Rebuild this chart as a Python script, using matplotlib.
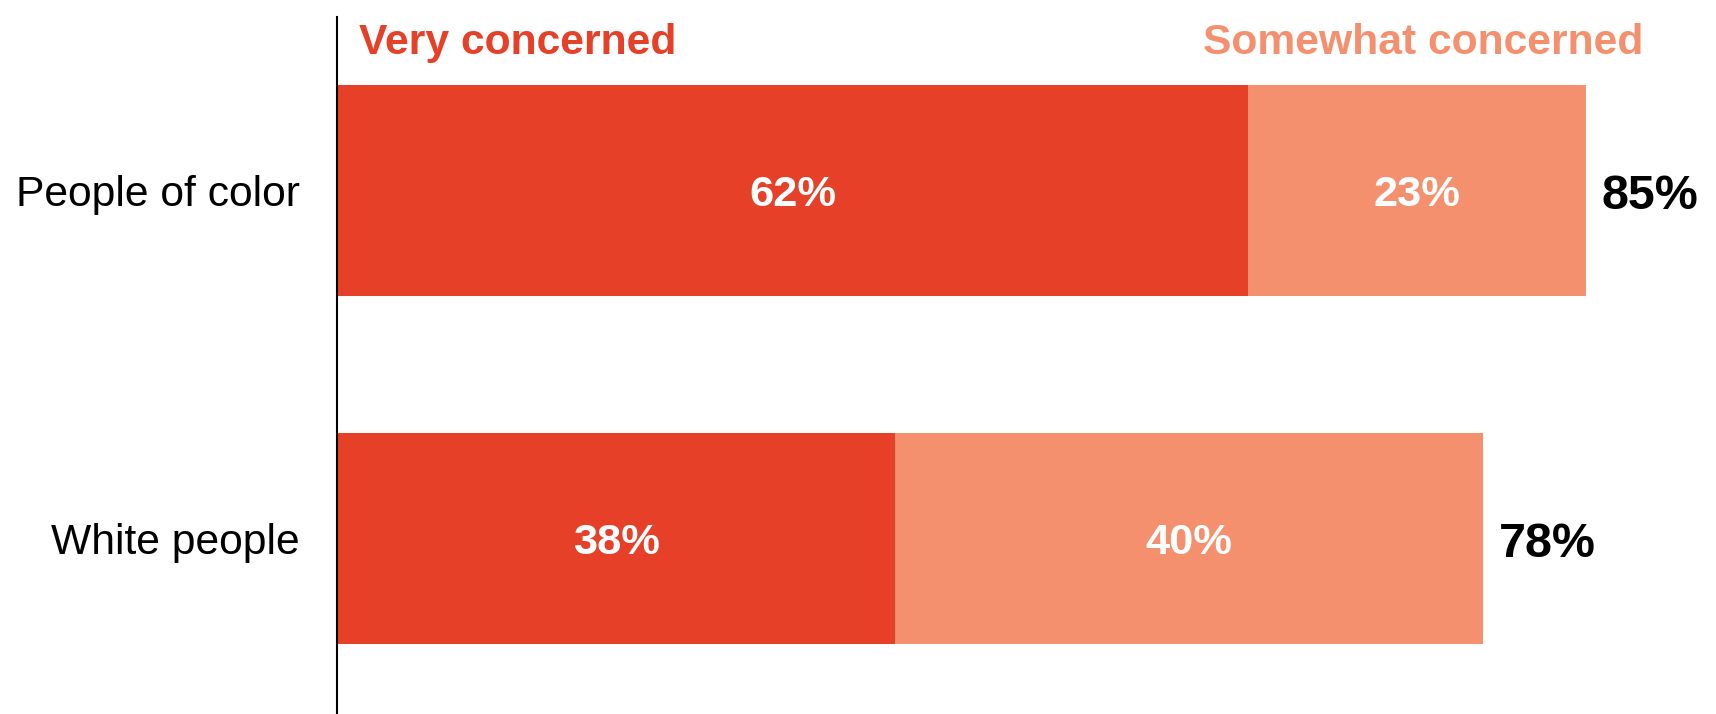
import matplotlib
matplotlib.use('Agg')
import matplotlib.pyplot as plt

plt.rcParams['font.family'] = ['Liberation Sans', 'DejaVu Sans']

categories = ['People of color', 'White people']
very = [62, 38]
somewhat = [23, 40]
very_color = '#E64028'
somewhat_color = '#F5906E'


def main():
    fig = plt.figure(figsize=(17.16, 7.14), dpi=100)
    x0 = 337 / 1716
    ax = fig.add_axes([x0, 0, 1 - x0, 697 / 714])

    ypos = list(range(len(categories)))
    ax.barh(ypos, very, height=0.607, color=very_color)
    ax.barh(ypos, somewhat, left=very, height=0.607, color=somewhat_color)

    for y, v, s in zip(ypos, very, somewhat):
        ax.text(v / 2, y + 0.013, f'{v}%', ha='center', va='center', color='white',
                fontsize=31.2, fontweight='bold')
        ax.text(v + s / 2, y + 0.013, f'{s}%', ha='center', va='center', color='white',
                fontsize=31.2, fontweight='bold')
        ax.text(v + s + 1.1, y + 0.017, f'{v + s}%', ha='left', va='center', color='black',
                fontsize=34.8, fontweight='bold')

    ax.set_xlim(0, 1379 / 14.69)
    ax.set_ylim(1.506, -0.499)

    ax.set_yticks(ypos)
    ax.set_yticklabels(categories, fontsize=30.7)
    ax.tick_params(axis='y', length=0, pad=26.6)
    ax.set_xticks([])

    for side in ['top', 'right', 'bottom']:
        ax.spines[side].set_visible(False)
    ax.spines['left'].set_linewidth(1.5)
    ax.spines['left'].set_color('black')

    # legend labels above the bars
    fig.text(359 / 1716, 1 - 43 / 714, 'Very concerned', color=very_color,
             fontsize=30.7, fontweight='bold', ha='left', va='center')
    fig.text(1643 / 1716, 1 - 43 / 714, 'Somewhat concerned', color=somewhat_color,
             fontsize=30.7, fontweight='bold', ha='right', va='center')

    fig.savefig('out.png', dpi=100)


if __name__ == "__main__":
    main()
